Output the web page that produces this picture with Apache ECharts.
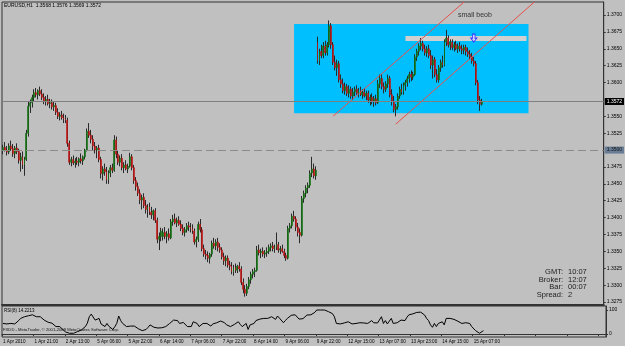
<!DOCTYPE html>
<html>
<head>
<meta charset="utf-8">
<script src="https://cdn.jsdelivr.net/npm/echarts@6/dist/echarts.min.js"></script>
<style>
  html, body { margin: 0; padding: 0; background: #c0c0c0; }
  #chart { width: 625px; height: 346px; }
</style>
</head>
<body>
<div id="chart"></div>
<script>
// EURUSD H1, prices in points (3572 = 1.3572), rows are [open, high, low, close]
const bars = [
  [3500,3508,3494,3504],[3504,3512,3498,3500],[3500,3506,3492,3497],[3497,3510,3494,3506],[3506,3514,3499,3502],
  [3502,3509,3490,3495],[3495,3506,3488,3503],[3503,3510,3494,3498],[3498,3502,3480,3485],[3485,3496,3468,3490],
  [3490,3498,3472,3478],[3478,3490,3462,3486],[3486,3530,3484,3525],[3525,3572,3520,3565],[3565,3575,3555,3570],
  [3570,3582,3563,3578],[3578,3590,3572,3585],[3585,3592,3578,3582],[3582,3590,3575,3588],[3588,3594,3580,3583],
  [3583,3590,3574,3578],[3578,3584,3568,3572],[3572,3580,3566,3575],[3575,3582,3566,3569],[3569,3576,3562,3570],
  [3570,3575,3560,3564],[3564,3572,3558,3566],[3566,3570,3552,3556],[3556,3562,3546,3550],[3550,3556,3544,3552],
  [3552,3558,3545,3548],[3548,3554,3540,3546],[3546,3552,3540,3544],[3544,3548,3505,3510],[3510,3514,3478,3482],
  [3482,3490,3476,3486],[3486,3492,3478,3481],[3481,3488,3474,3484],[3484,3490,3478,3482],[3482,3489,3476,3487],
  [3487,3495,3480,3484],[3484,3492,3478,3490],[3490,3502,3486,3500],[3500,3532,3498,3528],[3528,3540,3518,3522],
  [3522,3530,3510,3516],[3516,3522,3500,3506],[3506,3512,3495,3500],[3500,3506,3488,3503],[3503,3508,3482,3486],
  [3486,3490,3458,3465],[3465,3476,3455,3472],[3472,3480,3462,3468],[3468,3475,3450,3456],[3456,3470,3450,3466],
  [3466,3478,3460,3474],[3474,3480,3466,3470],[3470,3522,3468,3515],[3515,3520,3488,3494],[3494,3500,3478,3482],
  [3482,3492,3476,3488],[3488,3494,3470,3474],[3474,3482,3466,3478],[3478,3485,3470,3472],[3472,3480,3466,3476],
  [3476,3496,3474,3490],[3490,3494,3470,3474],[3474,3478,3450,3455],[3455,3460,3440,3446],[3446,3452,3432,3436],
  [3436,3442,3420,3426],[3426,3434,3412,3430],[3430,3436,3414,3418],[3418,3426,3406,3412],[3412,3420,3400,3416],
  [3416,3422,3404,3408],[3408,3416,3398,3404],[3404,3412,3396,3410],[3410,3414,3392,3396],[3396,3400,3362,3368],
  [3368,3378,3352,3372],[3372,3385,3365,3380],[3372,3384,3366,3378],[3378,3386,3368,3372],[3372,3380,3362,3376],
  [3376,3384,3366,3370],[3370,3398,3368,3394],[3394,3404,3388,3398],[3398,3406,3390,3392],[3392,3400,3386,3396],
  [3396,3402,3388,3390],[3390,3396,3380,3384],[3384,3390,3374,3378],[3378,3386,3372,3382],[3382,3392,3378,3388],
  [3388,3394,3380,3386],[3386,3392,3378,3384],[3384,3390,3376,3380],[3380,3384,3360,3364],[3364,3372,3356,3368],
  [3368,3394,3364,3390],[3390,3398,3378,3382],[3382,3386,3350,3354],[3354,3360,3342,3346],[3346,3352,3338,3344],
  [3344,3350,3334,3340],[3340,3348,3332,3346],[3346,3366,3342,3362],[3362,3370,3354,3358],[3358,3368,3352,3364],
  [3364,3370,3350,3356],[3356,3362,3348,3352],[3352,3356,3338,3342],[3342,3348,3330,3336],[3336,3344,3328,3340],
  [3340,3344,3326,3330],[3330,3336,3322,3328],[3328,3334,3316,3320],[3320,3330,3314,3326],[3326,3332,3318,3322],
  [3322,3330,3318,3328],[3328,3334,3320,3324],[3324,3328,3300,3304],[3304,3310,3288,3294],[3294,3300,3283,3288],
  [3288,3302,3284,3298],[3298,3312,3294,3308],[3308,3320,3302,3316],[3316,3324,3310,3320],[3320,3326,3312,3322],
  [3322,3358,3320,3352],[3352,3360,3344,3348],[3348,3354,3340,3350],[3350,3356,3342,3346],[3346,3352,3340,3348],
  [3348,3356,3342,3350],[3350,3360,3346,3356],[3356,3362,3350,3358],[3358,3364,3350,3354],[3354,3360,3348,3356],
  [3356,3378,3352,3360],[3360,3364,3348,3352],[3352,3358,3346,3354],[3354,3360,3348,3350],[3350,3354,3340,3344],
  [3344,3348,3336,3340],[3340,3388,3338,3384],[3384,3392,3378,3388],[3388,3406,3384,3402],[3402,3410,3394,3398],
  [3398,3402,3380,3386],[3386,3392,3372,3378],[3378,3384,3362,3374],[3374,3432,3372,3428],[3428,3440,3422,3436],
  [3436,3448,3430,3444],[3444,3452,3436,3448],[3448,3470,3444,3466],[3466,3490,3460,3472],[3472,3480,3458,3462],
  [3462,3476,3456,3470],
  [3660,3668,3628,3632],[3632,3650,3626,3646],[3646,3656,3636,3640],[3640,3660,3636,3654],
  [3654,3662,3640,3644],[3644,3660,3640,3656],[3656,3692,3652,3684],[3684,3688,3650,3656],[3656,3660,3626,3630],
  [3630,3640,3618,3622],[3622,3634,3610,3628],[3628,3632,3600,3604],[3604,3612,3592,3598],[3598,3606,3584,3588],
  [3588,3600,3582,3594],[3594,3598,3580,3584],[3584,3596,3578,3590],[3590,3594,3576,3580],[3580,3592,3574,3586],
  [3586,3594,3580,3590],[3590,3596,3582,3584],[3584,3592,3578,3588],[3588,3594,3580,3582],[3582,3590,3576,3586],
  [3586,3592,3578,3580],[3580,3588,3574,3584],[3584,3588,3570,3574],[3574,3582,3566,3578],[3578,3584,3568,3572],
  [3572,3580,3564,3576],[3576,3582,3566,3570],[3570,3604,3568,3598],[3598,3612,3592,3606],[3606,3612,3590,3594],
  [3594,3600,3584,3590],[3590,3602,3586,3598],[3598,3612,3592,3606],[3606,3610,3578,3582],[3582,3590,3566,3572],
  [3572,3580,3556,3560],[3560,3568,3550,3564],[3564,3584,3560,3580],[3580,3594,3576,3590],[3590,3598,3582,3586],
  [3586,3600,3582,3596],[3596,3604,3588,3600],[3600,3610,3594,3606],[3606,3616,3600,3612],[3612,3618,3602,3608],
  [3608,3616,3604,3612],[3612,3642,3610,3638],[3638,3650,3632,3646],[3646,3658,3640,3654],[3654,3666,3648,3658],
  [3658,3662,3646,3650],[3650,3656,3640,3644],[3644,3654,3638,3650],[3650,3656,3636,3640],[3640,3648,3620,3626],
  [3626,3640,3606,3634],[3634,3638,3608,3612],[3612,3620,3600,3604],[3604,3626,3600,3622],[3622,3634,3616,3630],
  [3630,3640,3622,3626],[3626,3664,3624,3660],[3660,3678,3654,3666],[3666,3670,3652,3656],[3656,3664,3648,3660],
  [3660,3664,3648,3652],[3652,3660,3646,3656],[3656,3662,3648,3650],[3650,3658,3644,3654],[3654,3660,3646,3650],
  [3650,3656,3642,3648],[3648,3656,3642,3652],[3652,3656,3640,3646],[3646,3652,3638,3642],[3642,3648,3634,3638],
  [3638,3644,3628,3632],[3632,3638,3624,3628],[3628,3632,3596,3600],[3600,3604,3568,3574],[3574,3580,3558,3568],
  [3568,3576,3566,3572]
];

// RSI(8), one value per bar
const rsi = [
  44,50,42,44,44,38,42,44,56,65, 72,72,72,76,79,80,83,72,79,72,
  65,58,51,49,47,45,44,31,24,31, 22,17,8,4,3,3,3,4,10,14,
  17,24,31,45,72,83,75,58,51,65, 42,36,31,44,32,24,19,30,44,75,
  56,44,38,31,32,33,38,33,28,22, 17,14,16,19,28,38,33,28,31,25,
  19,26,33,31,38,44,52,58,57,56, 44,46,48,51,31,31,31,51,48,44,
  31,38,44,44,44,38,33,42,45,47, 50,54,56,47,38,35,31,36,40,42,
  51,40,31,38,44,19,38,42,44,56, 60,62,64,65,65,65,58,72,66,61,
  75,66,58,47,56,65,72,78,86,80, 72,62,58,64,72,79,83,80,79,90,
  100,100,100,100,100,96,93,93,85,72, 44,48,42,44,46,47,51,46,42,43,
  44,46,47,42,46,42,44,50,56,47, 42,46,51,72,44,56,42,47,65,44,
  46,47,51,58,57,56,70,80,83,84, 86,90,93,91,89,79,65,56,38,28,
  44,31,44,47,51,38,65,65,65,63, 61,58,53,47,44,42,47,44,44,31,
  24,14,10,3,6,14
];

// one time label every 16 bars
const tickLabels = ['1 Apr 2010', '1 Apr 21:00', '2 Apr 13:00', '5 Apr 06:00', '5 Apr 22:00', '6 Apr 14:00',
  '7 Apr 06:00', '7 Apr 22:00', '8 Apr 14:00', '9 Apr 06:00', '9 Apr 22:00', '12 Apr 15:00',
  '13 Apr 07:00', '13 Apr 23:00', '14 Apr 15:00', '15 Apr 07:00'];
const priceTicks = [1.3275, 1.3300, 1.3325, 1.3350, 1.3375, 1.3400, 1.3425, 1.3450, 1.3475,
  1.3525, 1.3550, 1.3600, 1.3625, 1.3650, 1.3675, 1.3700];
const rsiTicks = [0, 100];

const bidPrice = 1.3572;
const levelPrice = 1.3500;
// drawing objects: [bar index, price]
const blueBox = [[149.4, 1.36866], [269.3, 1.35544]];
const grayBox = [[205.5, 1.36688], [268.2, 1.36614]];
const channelUpper = [[169.3, 1.35503], [235.5, 1.37193]];
const channelLower = [[201.4, 1.35383], [271.7, 1.37193]];
const arrowAt = [241, 1.36658];

const slots = 308;
const cats = Array.from({ length: slots }, (_, i) => String(i));
const toPrice = v => 1 + v / 10000;
const wickData = bars.map(b => [toPrice(b[0]), toPrice(b[3]), toPrice(b[2]), toPrice(b[1])]);
const bodyData = bars.map(b => {
  const o = toPrice(b[0]), c = toPrice(b[3]);
  return [o, c, Math.min(o, c), Math.max(o, c)];
});

const FONT = 'Liberation Sans';
const chart = echarts.init(document.getElementById('chart'));

chart.setOption({
  animation: false,
  backgroundColor: '#c0c0c0',
  grid: [
    { left: 2, right: 19, top: 2, height: 303, show: true, borderColor: '#333', borderWidth: 1 },
    { left: 2, right: 19, top: 306, height: 31, show: true, borderColor: '#333', borderWidth: 1 }
  ],
  xAxis: [
    {
      type: 'category', gridIndex: 0, data: cats, boundaryGap: true,
      axisLine: { lineStyle: { color: '#333', width: 2 } },
      axisTick: { show: false }, axisLabel: { show: false }, splitLine: { show: false }
    },
    {
      type: 'category', gridIndex: 1, data: cats, boundaryGap: true,
      axisLine: { lineStyle: { color: '#333', width: 1 } },
      axisTick: { show: true, interval: 15, length: 2, lineStyle: { color: '#333' } },
      axisLabel: {
        interval: 15, align: 'left', margin: 2, fontSize: 4.6, fontFamily: FONT, color: '#000',
        formatter: v => tickLabels[+v / 16] || ''
      },
      splitLine: { show: false }
    }
  ],
  yAxis: [
    {
      type: 'value', gridIndex: 0, position: 'right', min: 1.32706, max: 1.37193, scale: true,
      axisLine: { show: true, lineStyle: { color: '#333' } },
      axisTick: { show: true, length: 2, customValues: priceTicks, lineStyle: { color: '#333' } },
      axisLabel: {
        customValues: priceTicks, margin: 3, fontSize: 5, fontFamily: FONT, color: '#000',
        formatter: v => v.toFixed(4)
      },
      splitLine: { show: false }
    },
    {
      type: 'value', gridIndex: 1, position: 'right', min: -12.5, max: 116.7,
      axisLine: { show: true, lineStyle: { color: '#333' } },
      axisTick: { show: true, length: 2, customValues: rsiTicks, lineStyle: { color: '#333' } },
      axisLabel: {
        customValues: rsiTicks, margin: 3, fontSize: 5, fontFamily: FONT, color: '#000',
        formatter: v => String(Math.round(v))
      },
      splitLine: { show: false }
    }
  ],
  series: [
    {
      name: 'objects', type: 'line', xAxisIndex: 0, yAxisIndex: 0, data: [], z: 1,
      markArea: {
        silent: true,
        data: [
          [{ coord: blueBox[0], itemStyle: { color: '#00bfff' } }, { coord: blueBox[1] }],
          [{ coord: grayBox[0], itemStyle: { color: '#d0d0d0' } }, { coord: grayBox[1] }]
        ]
      },
      markLine: {
        silent: true, symbol: ['none', 'none'], precision: 5,
        data: [
          [{ coord: channelUpper[0] }, { coord: channelUpper[1] }],
          [{ coord: channelLower[0] }, { coord: channelLower[1] }]
        ],
        lineStyle: { color: '#e8504a', width: 1, type: 'solid' },
        label: { show: false }
      }
    },
    {
      name: 'wicks', type: 'candlestick', xAxisIndex: 0, yAxisIndex: 0, data: wickData, z: 3,
      barWidth: 1,
      itemStyle: { color: '#2a2a2a', color0: '#2a2a2a', borderColor: '#2a2a2a', borderColor0: '#2a2a2a', borderWidth: 1 }
    },
    {
      name: 'bodies', type: 'candlestick', xAxisIndex: 0, yAxisIndex: 0, data: bodyData, z: 4,
      barWidth: 1.4,
      itemStyle: { color: '#127212', color0: '#c01414', borderColor: '#127212', borderColor0: '#c01414', borderWidth: 0.6 },
      markLine: {
        silent: true, symbol: ['none', 'none'], precision: 4,
        data: [
          {
            yAxis: bidPrice, lineStyle: { color: '#808080', width: 1, type: 'solid' },
            label: { position: 'end', distance: 1, formatter: bidPrice.toFixed(4), backgroundColor: '#000', color: '#fff',
              fontSize: 5, fontFamily: FONT, padding: [1, 2] }
          },
          {
            yAxis: levelPrice, lineStyle: { color: '#8a8a8a', width: 1, type: [8, 4] },
            label: { position: 'end', distance: 1, formatter: levelPrice.toFixed(4), backgroundColor: '#6a7d96', color: '#111',
              fontSize: 5, fontFamily: FONT, padding: [1, 2] }
          }
        ]
      },
      markPoint: {
        silent: true,
        data: [{
          coord: arrowAt,
          symbol: 'path://M3,0 L7,0 L7,5 L10,5 L5,10 L0,5 L3,5 Z',
          symbolSize: [6, 8],
          itemStyle: { color: '#d8d8ff', borderColor: '#3a3aff', borderWidth: 1 },
          label: { show: false }
        }]
      }
    },
    {
      name: 'RSI', type: 'line', xAxisIndex: 1, yAxisIndex: 1, data: rsi, z: 3,
      symbol: 'none', lineStyle: { color: '#000', width: 1 }
    }
  ],
  graphic: [
    { type: 'text', left: 4, top: 3, style: { text: 'EURUSD,H1  1.3568 1.3576 1.3569 1.3572', font: '5px ' + FONT, fill: '#000' } },
    { type: 'text', x: 458, y: 15, style: { text: 'small beob', font: '7px ' + FONT, fill: '#333', textVerticalAlign: 'middle' } },
    { type: 'text', x: 4, y: 311, style: { text: 'RSI(8) 14.2213', font: '4.5px ' + FONT, fill: '#000', textVerticalAlign: 'middle' } },
    { type: 'text', x: 3, y: 330, style: { text: 'FXDD - MetaTrader, © 2001-2009 MetaQuotes Software Corp.', font: '4.2px ' + FONT, fill: '#111', textVerticalAlign: 'middle' } },
    { type: 'text', x: 563, y: 272, style: { text: 'GMT:', font: '7.5px ' + FONT, fill: '#222', textAlign: 'right', textVerticalAlign: 'middle' } },
    { type: 'text', x: 563, y: 279.5, style: { text: 'Broker:', font: '7.5px ' + FONT, fill: '#222', textAlign: 'right', textVerticalAlign: 'middle' } },
    { type: 'text', x: 563, y: 287, style: { text: 'Bar:', font: '7.5px ' + FONT, fill: '#222', textAlign: 'right', textVerticalAlign: 'middle' } },
    { type: 'text', x: 563, y: 294.5, style: { text: 'Spread:', font: '7.5px ' + FONT, fill: '#222', textAlign: 'right', textVerticalAlign: 'middle' } },
    { type: 'text', x: 568, y: 272, style: { text: '10:07', font: '7.5px ' + FONT, fill: '#222', textVerticalAlign: 'middle' } },
    { type: 'text', x: 568, y: 279.5, style: { text: '12:07', font: '7.5px ' + FONT, fill: '#222', textVerticalAlign: 'middle' } },
    { type: 'text', x: 568, y: 287, style: { text: '00:07', font: '7.5px ' + FONT, fill: '#222', textVerticalAlign: 'middle' } },
    { type: 'text', x: 568, y: 294.5, style: { text: '2', font: '7.5px ' + FONT, fill: '#222', textVerticalAlign: 'middle' } }
  ]
});
</script>
</body>
</html>
